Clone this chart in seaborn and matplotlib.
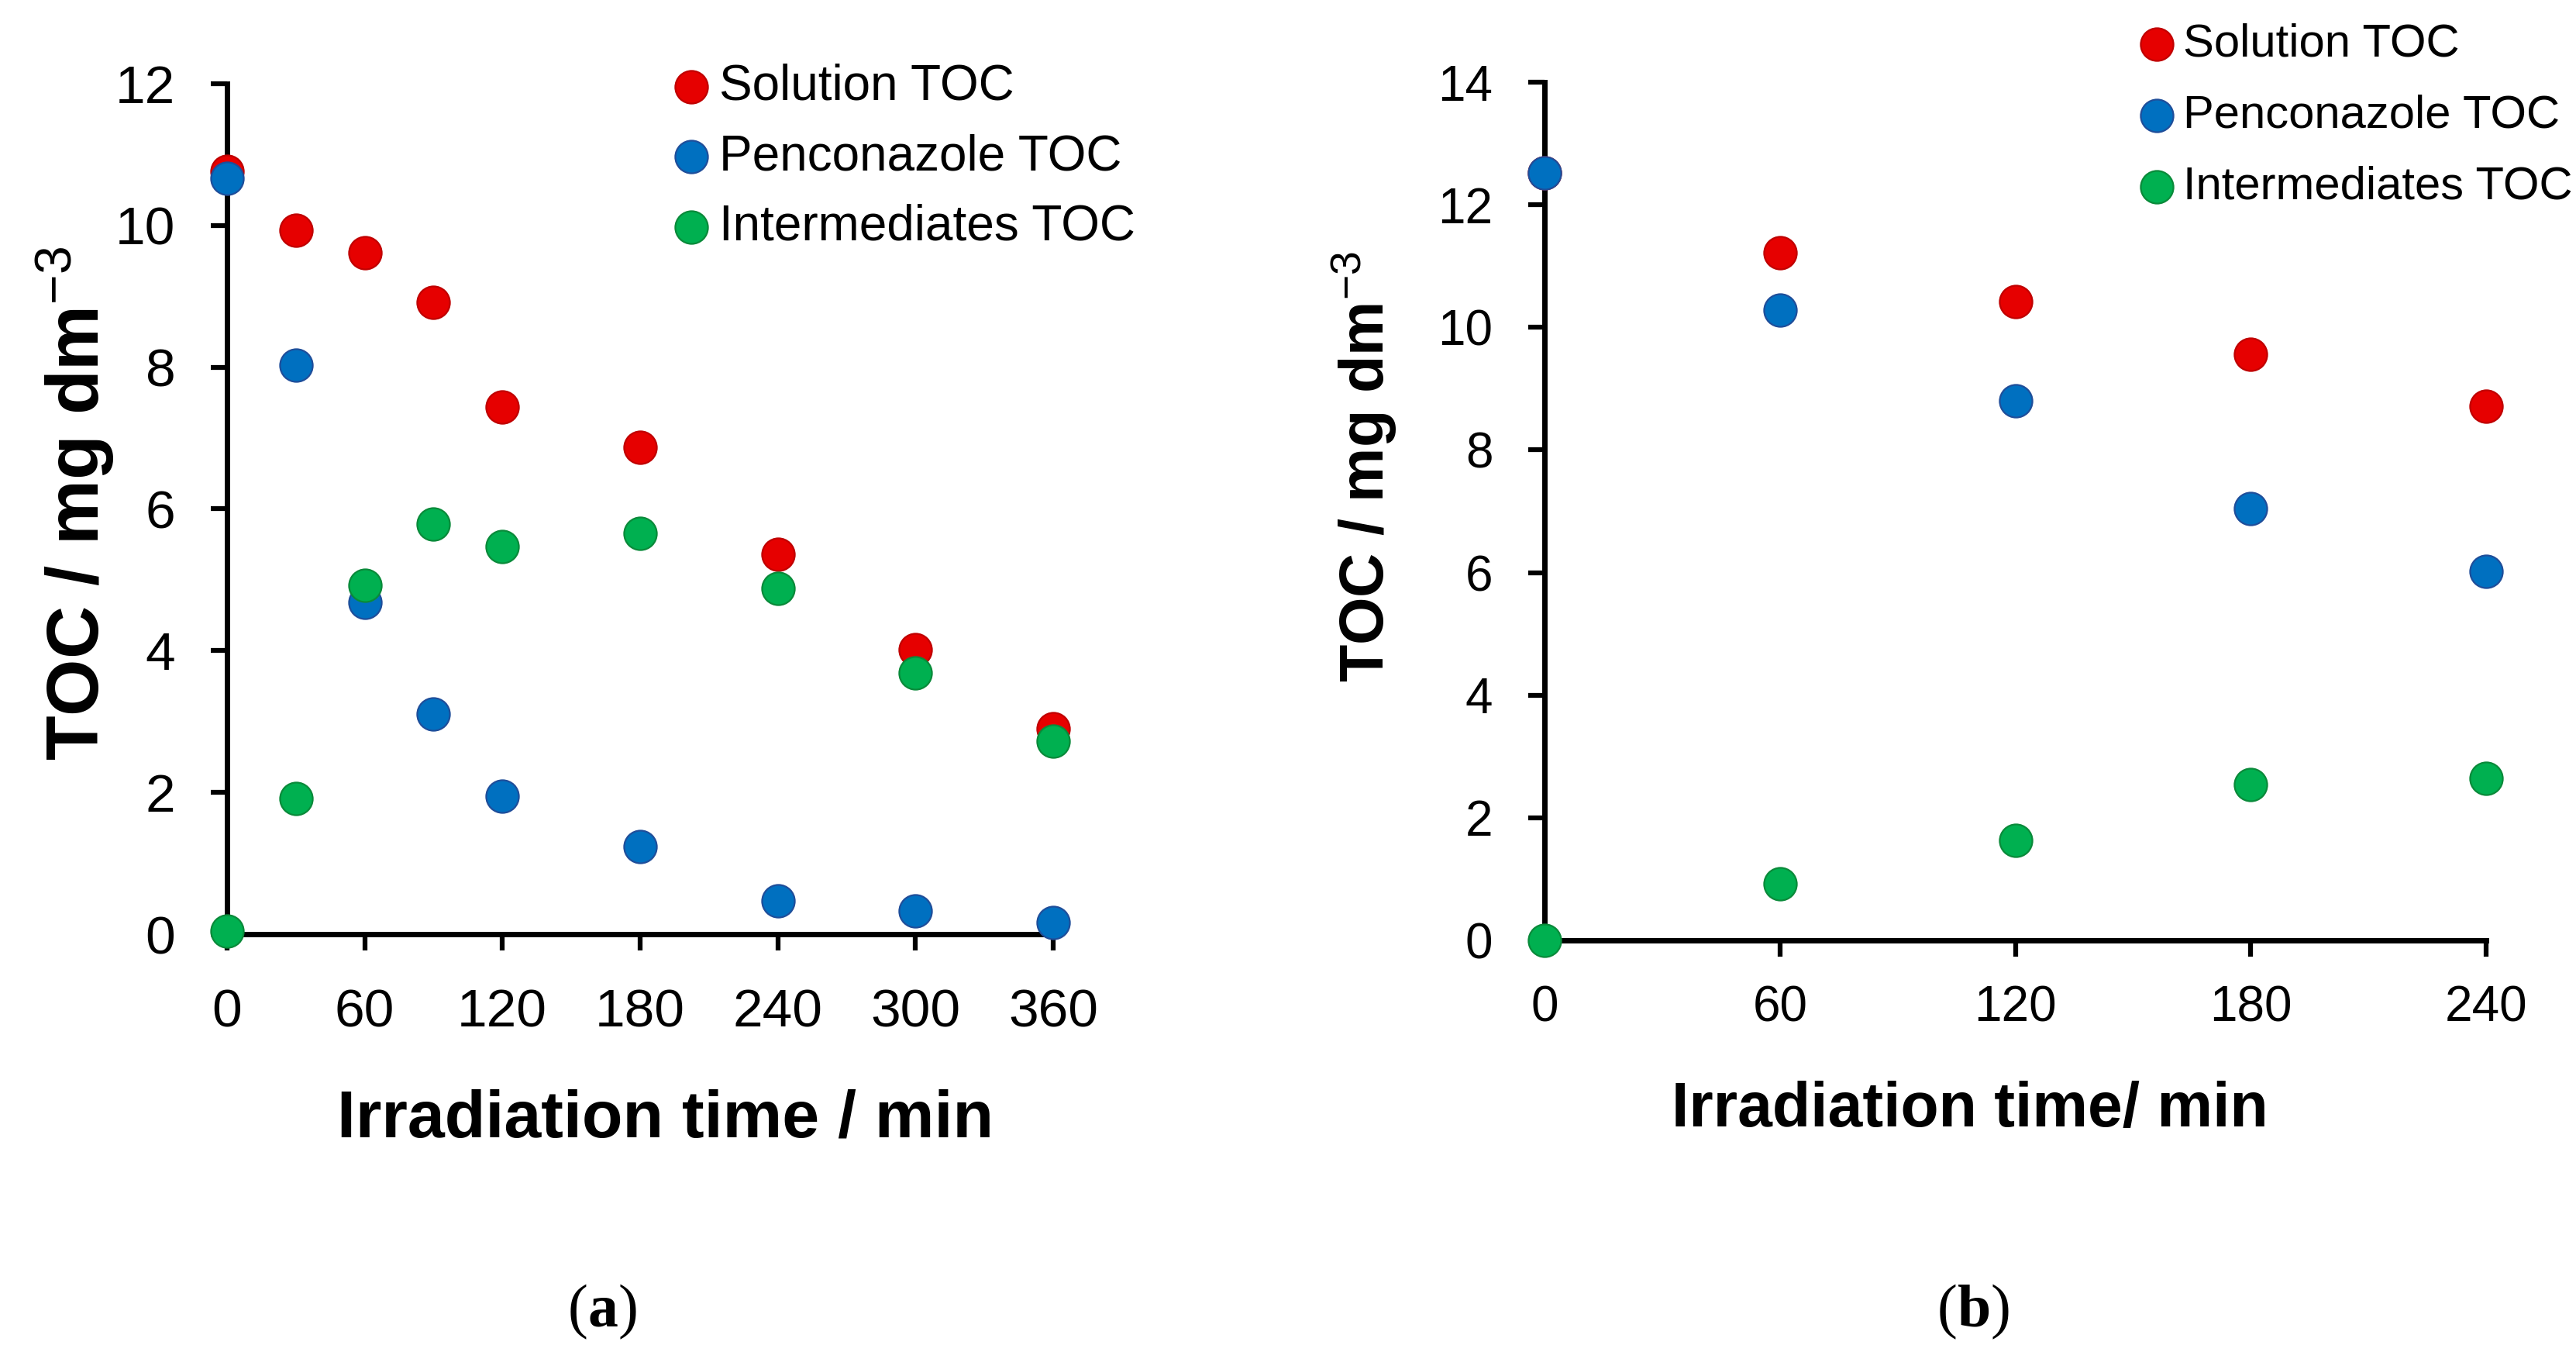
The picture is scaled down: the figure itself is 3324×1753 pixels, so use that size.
import seaborn as sns
import pandas as pd
import matplotlib.pyplot as plt

# panel (a): 0-360 min
time_a = [0, 30, 60, 90, 120, 180, 240, 300, 360]
solution_a = [10.76, 9.93, 9.62, 8.91, 7.44, 6.87, 5.36, 4.02, 2.90]
pencon_a = [10.67, 8.03, 4.68, 3.11, 1.95, 1.24, 0.47, 0.33, 0.16]
interm_a = [0.04, 1.91, 4.92, 5.79, 5.47, 5.65, 4.88, 3.69, 2.72]

# panel (b): 0-240 min
time_b = [0, 60, 120, 180, 240]
solution_b = [12.52, 11.22, 10.42, 9.56, 8.71]
pencon_b = [12.52, 10.28, 8.80, 7.04, 6.02]
interm_b = [0.0, 0.92, 1.63, 2.54, 2.65]

series_names = ["Solution TOC", "Penconazole TOC", "Intermediates TOC"]
fills = ["#E60000", "#0070C0", "#00B050"]
edges = ["#C00000", "#1F4E9A", "#0A8A3A"]

xticks_a = [0, 60, 120, 180, 240, 300, 360]
yticks_a = [0, 2, 4, 6, 8, 10, 12]
xticks_b = [0, 60, 120, 180, 240]
yticks_b = [0, 2, 4, 6, 8, 10, 12, 14]


def long_form(time, sol, pen, inter):
    frames = []
    for name, vals in zip(series_names, [sol, pen, inter]):
        frames.append(pd.DataFrame({"time": time, "toc": vals, "series": name}))
    return pd.concat(frames, ignore_index=True)


def draw_panel(ax, data, xticks, yticks, tick_fs, xpad, leg_fs, leg_space, leg_anchor, fig):
    for name, fc, ec in zip(series_names, fills, edges):
        sub = data[data["series"] == name]
        sns.scatterplot(data=sub, x="time", y="toc", ax=ax, color=fc,
                        edgecolor=ec, linewidth=1.6, s=920, label=name,
                        clip_on=False, zorder=3)
    ax.set_xlim(xticks[0], xticks[-1])
    ax.set_ylim(yticks[0], yticks[-1])
    ax.set_xticks(xticks)
    ax.set_yticks(yticks)
    ax.set_xlabel("")
    ax.set_ylabel("")
    sns.despine(ax=ax)
    for sp in ["left", "bottom"]:
        ax.spines[sp].set_linewidth(5)
        ax.spines[sp].set_color("black")
    ax.tick_params(axis="both", direction="out", length=15, width=4.5,
                   labelsize=tick_fs, colors="black", bottom=True, left=True)
    ax.tick_params(axis="y", pad=33)
    ax.tick_params(axis="x", pad=xpad)
    ax.legend(loc="upper left", bbox_to_anchor=leg_anchor,
              bbox_transform=fig.transFigure, frameon=False,
              fontsize=leg_fs, handlelength=0.8, handletextpad=0.16,
              labelspacing=leg_space, borderpad=0, borderaxespad=0,
              markerscale=1.0)


def panel_tag(ax, x, y, letter):
    fam = "Liberation Serif"
    t1 = ax.figure.text(x, y, "(", fontsize=56, family=fam, va="baseline", ha="left")
    t2 = ax.annotate(letter, xy=(1, 0), xycoords=t1, va="bottom", ha="left",
                     fontsize=56, family=fam, fontweight="bold", annotation_clip=False)
    ax.annotate(")", xy=(1, 0), xycoords=t2, va="bottom", ha="left",
                fontsize=56, family=fam, annotation_clip=False)


sns.set_style("ticks")
plt.rcParams["font.family"] = ["Liberation Sans", "DejaVu Sans"]
plt.rcParams["text.color"] = "black"
plt.rcParams["axes.labelcolor"] = "black"
plt.rcParams["mathtext.fontset"] = "custom"
plt.rcParams["mathtext.rm"] = "Liberation Sans"
plt.rcParams["mathtext.it"] = "Liberation Sans:italic"
plt.rcParams["mathtext.bf"] = "Liberation Sans:bold"

fig = plt.figure(figsize=(33.24, 17.53), dpi=100)
ax_a = fig.add_axes([0.0881, 0.3126, 0.3207, 0.6258])
ax_b = fig.add_axes([0.5996, 0.3080, 0.3655, 0.6315])

data_a = long_form(time_a, solution_a, pencon_a, interm_a)
data_b = long_form(time_b, solution_b, pencon_b, interm_b)

draw_panel(ax_a, data_a, xticks_a, yticks_a, 50, 35, 46, 0.48, (0.2608, 0.9535), fig)
draw_panel(ax_b, data_b, xticks_b, yticks_b, 46, 26, 43, 0.62, (0.8302, 0.9830), fig)

ylab = r"TOC / mg dm$^{-3}$"
ax_a.text(-0.184, 0.507, ylab, transform=ax_a.transAxes, rotation=90,
          ha="center", va="center", fontsize=68, fontweight="bold")
ax_a.text(0.531, -0.218, "Irradiation time / min", transform=ax_a.transAxes,
          ha="center", va="center", fontsize=62, fontweight="bold")
ax_b.text(-0.192, 0.552, ylab, transform=ax_b.transAxes, rotation=90,
          ha="center", va="center", fontsize=57, fontweight="bold")
ax_b.text(0.452, -0.198, "Irradiation time/ min", transform=ax_b.transAxes,
          ha="center", va="center", fontsize=58, fontweight="bold")

panel_tag(ax_a, 0.2205, 0.0240, "a")
panel_tag(ax_b, 0.7520, 0.0240, "b")

fig.savefig("out.png", dpi=100, facecolor="white")
